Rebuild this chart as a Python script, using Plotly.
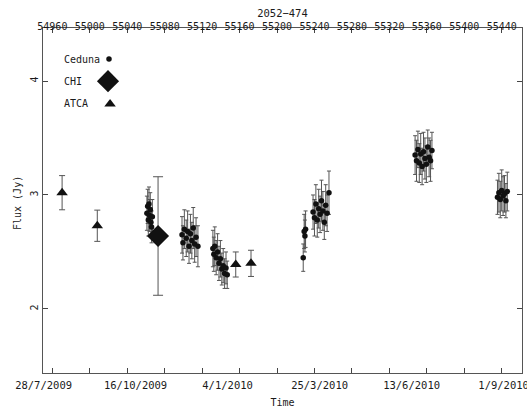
import plotly.graph_objects as go
import pandas as pd

# ---------------- data ----------------
ceduna_mjd = [55061.0, 55061.8, 55062.5, 55063.2, 55063.9, 55064.6, 55065.3, 55066.0, 55066.8,
              55098.5, 55099.5, 55101.0, 55103.0, 55104.5, 55106.0, 55107.5, 55109.0, 55110.5, 55112.0, 55113.5, 55115.5,
              55131.5, 55132.5, 55133.5, 55135.0, 55136.5, 55138.0, 55139.5, 55141.0, 55142.5, 55144.0, 55145.5, 55146.8,
              55228.0, 55229.0, 55229.8, 55230.5,
              55238.5, 55240.0, 55241.5, 55243.0, 55244.5, 55246.0, 55247.5, 55249.0, 55250.5, 55252.0, 55253.5, 55255.5,
              55347.5, 55349.0, 55350.5, 55352.0, 55353.5, 55355.0, 55356.5, 55358.0, 55359.5, 55361.0, 55362.5, 55364.0, 55365.5,
              55435.5, 55437.0, 55438.5, 55440.0, 55441.5, 55443.0, 55444.5, 55446.0]
ceduna_flux = [2.84, 2.90, 2.78, 2.92, 2.82, 2.87, 2.76, 2.72, 2.81,
               2.65, 2.58, 2.70, 2.62, 2.68, 2.55, 2.66, 2.60, 2.71, 2.57, 2.63, 2.55,
               2.53, 2.48, 2.55, 2.45, 2.50, 2.40, 2.44, 2.35, 2.38, 2.31, 2.36, 2.30,
               2.45, 2.68, 2.64, 2.70,
               2.85, 2.80, 2.92, 2.78, 2.88, 2.83, 2.95, 2.86, 2.76, 2.91, 2.84, 3.02,
               3.35, 3.30, 3.40, 3.28, 3.36, 3.25, 3.38, 3.32, 3.27, 3.42, 3.33, 3.30, 3.39,
               2.98, 3.02, 2.96, 3.04, 2.99, 3.01, 2.95, 3.03]
ceduna_err = [0.15, 0.15, 0.14, 0.15, 0.14, 0.15, 0.13, 0.14, 0.15,
              0.16, 0.15, 0.17, 0.16, 0.18, 0.15, 0.17, 0.16, 0.18, 0.16, 0.17, 0.18,
              0.16, 0.15, 0.17, 0.15, 0.16, 0.15, 0.16, 0.14, 0.15, 0.13, 0.14, 0.12,
              0.12, 0.15, 0.14, 0.16,
              0.15, 0.16, 0.17, 0.15, 0.17, 0.16, 0.18, 0.17, 0.15, 0.18, 0.16, 0.19,
              0.17, 0.18, 0.16, 0.17, 0.18, 0.16, 0.17, 0.18, 0.16, 0.15, 0.17, 0.18, 0.16,
              0.15, 0.17, 0.16, 0.18, 0.17, 0.16, 0.15, 0.17]

chi_mjd = [55072.9]
chi_flux = [2.64]
chi_err = [0.52]

atca_mjd = [54970.4, 55008.0, 55155.9, 55172.2]
atca_flux = [3.02, 2.73, 2.39, 2.40]
atca_err = [0.15, 0.137, 0.11, 0.115]

mjd_tick_labels = ["54960", "55000", "55040", "55080", "55120", "55160", "55200",
                   "55240", "55280", "55320", "55360", "55400", "55440"]
date_tick_labels = ["28/7/2009", "16/10/2009", "4/1/2010", "25/3/2010", "13/6/2010", "1/9/2010"]
flux_ticks = [2, 3, 4]

legend_names = ["Ceduna", "CHI", "ATCA"]

# ---------------- figure ----------------
FONT = "DejaVu Sans Mono"
INK = "#111111"
ERR = "#555555"
TXT = "#1a1a1a"

fig = go.Figure()

fig.add_trace(go.Scatter(
    x=ceduna_mjd, y=ceduna_flux, mode="markers", name="Ceduna",
    marker=dict(symbol="circle", size=5.5, color=INK),
    error_y=dict(type="data", array=ceduna_err, visible=True, color=ERR, thickness=1, width=2),
    showlegend=False))

fig.add_trace(go.Scatter(
    x=chi_mjd, y=chi_flux, mode="markers", name="CHI",
    marker=dict(symbol="diamond", size=17, color=INK),
    error_y=dict(type="data", array=chi_err, visible=True, color=ERR, thickness=1, width=5),
    showlegend=False))

fig.add_trace(go.Scatter(
    x=atca_mjd, y=atca_flux, mode="markers", name="ATCA",
    marker=dict(symbol="triangle-up", size=10, color=INK),
    error_y=dict(type="data", array=atca_err, visible=True, color=ERR, thickness=1, width=3),
    showlegend=False))

# bottom date axis (separate calendar scale as in the original)
date_vals = pd.to_datetime(date_tick_labels, format="%d/%m/%Y")
fig.add_trace(go.Scatter(x=[date_vals[0]], y=[None], xaxis="x2", yaxis="y",
                         mode="markers", showlegend=False, hoverinfo="skip"))

# manual legend (text then symbol)
leg_y = [0.910, 0.846, 0.780]
leg_sym = ["circle", "diamond", "triangle-up"]
leg_size = [5.5, 17, 10]
leg_x = [0.1378, 0.1357, 0.1400]
for i, name in enumerate(legend_names):
    fig.add_trace(go.Scatter(x=[leg_x[i]], y=[leg_y[i]], xaxis="x3", yaxis="y3",
                             mode="markers", showlegend=False, hoverinfo="skip",
                             marker=dict(symbol=leg_sym[i], size=leg_size[i], color=INK)))
    fig.add_annotation(text=name, xref="paper", yref="paper", x=0.0397, y=leg_y[i],
                       xanchor="left", yanchor="middle", showarrow=False,
                       font=dict(family=FONT, size=10, color=TXT))

mjd_vals = [int(v) for v in mjd_tick_labels]

fig.update_layout(
    width=527, height=408,
    margin=dict(l=43, r=5, t=28, b=35, autoexpand=False),
    paper_bgcolor="white", plot_bgcolor="white",
    font=dict(family=FONT, size=10, color=TXT),
    title=dict(text="2052\u2212474", x=0.536, xanchor="center", y=1 - 13 / 408, yanchor="middle",
               font=dict(family=FONT, size=10.5, color=TXT)),
    xaxis=dict(side="top", range=[54950, 55461.7], tickmode="array",
               tickvals=mjd_vals, ticktext=mjd_tick_labels, automargin=False,
               ticks="inside", ticklen=5, tickcolor="#444",
               showline=True, linecolor="#555", linewidth=1, mirror="ticks",
               showgrid=False, zeroline=False, tickfont=dict(size=10, color=TXT),
               ticklabeloverflow="allow", ticklabelstandoff=-7),
    xaxis2=dict(overlaying="x", side="bottom", type="date",
                range=["2009-07-27 12:00", "2010-09-17 00:00"],
                tickmode="array", tickvals=date_vals, ticktext=date_tick_labels,
                ticks="", showline=False, showgrid=False, zeroline=False, automargin=False,
                ticklabelstandoff=4, tickfont=dict(size=10.5, color=TXT), ticklabeloverflow="allow",
                title=dict(text="Time", font=dict(family=FONT, size=10, color=TXT), standoff=9)),
    xaxis3=dict(overlaying="x", range=[0, 1], visible=False, domain=[0, 1]),
    yaxis=dict(range=[1.438, 4.465], tickmode="array", tickvals=flux_ticks,
               ticktext=[str(v) for v in flux_ticks], tickangle=-90, automargin=False,
               ticks="inside", ticklen=5, tickcolor="#444",
               showline=True, linecolor="#555", linewidth=1, mirror="ticks",
               showgrid=False, zeroline=False, tickfont=dict(size=10, color=TXT)),
    yaxis3=dict(overlaying="y", range=[0, 1], visible=False),
)
fig.update_traces(selector=dict(xaxis="x3"), yaxis="y3")

fig.add_annotation(text="Flux (Jy)", xref="paper", yref="paper", x=-0.052, y=0.493,
                   textangle=-90, showarrow=False, xanchor="center", yanchor="middle",
                   font=dict(family=FONT, size=10, color=TXT))

fig.write_html("out.html", config={"displayModeBar": False},
               post_script="document.body.style.margin='0';")
